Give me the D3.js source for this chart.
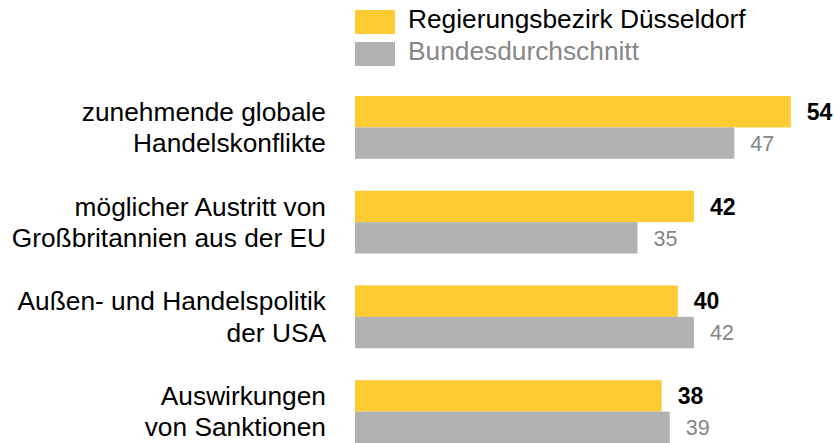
<!DOCTYPE html>
<html>
<head>
<meta charset="utf-8">
<script src="https://cdn.jsdelivr.net/npm/d3@7"></script>
<style>
  body { margin: 0; background: #fff; }
  text { font-family: "Liberation Sans", Arial, sans-serif; }
</style>
</head>
<body>
<div id="app"></div>
<script>
const categories = [
    ["zunehmende globale", "Handelskonflikte"],
    ["möglicher Austritt von", "Großbritannien aus der EU"],
    ["Außen- und Handelspolitik", "der USA"],
    ["Auswirkungen", "von Sanktionen"]
];
const seriesNames = ["Regierungsbezirk Düsseldorf", "Bundesdurchschnitt"];
const duesseldorf = [54, 42, 40, 38];
const bund = [47, 35, 42, 39];

const colors = ["#fecb33", "#b2b2b2"];
const textColors = ["#000", "#858585"];

const width = 834, height = 443;
const barLeft = 355;

const svg = d3.select("#app")
    .append("svg")
        .attr("width", width)
        .attr("height", height);

const rows = categories.map((c, i) => ({label: c, values: [duesseldorf[i], bund[i]]}));

const y = d3.scaleBand()
    .domain(d3.range(categories.length))
    .range([96, 443])
    .paddingInner(32 / 95)
    .paddingOuter(0);

const ySub = d3.scaleBand()
    .domain([0, 1])
    .range([0, y.bandwidth()]);

const x = d3.scaleLinear().domain([0, 100]).range([0, 807]);

// legend
const legend = svg.append("g");
seriesNames.forEach((name, i) => {
    legend.append("rect")
        .attr("x", barLeft)
        .attr("y", 10 + i * 32)
        .attr("width", 40)
        .attr("height", 24)
        .attr("fill", colors[i]);
    legend.append("text")
        .attr("x", 408)
        .attr("y", 27.5 + i * 32.5)
        .attr("font-size", "26.3px")
        .attr("fill", i === 0 ? "#000" : "#878787")
        .text(name);
});

const groups = svg.selectAll(".group")
    .data(rows)
    .join("g")
        .attr("class", "group")
        .attr("transform", (d, i) => "translate(0," + y(i) + ")");

groups.selectAll("rect")
    .data(d => d.values)
    .join("rect")
        .attr("x", barLeft)
        .attr("y", (d, j) => ySub(j))
        .attr("width", d => x(d))
        .attr("height", ySub.bandwidth())
        .attr("fill", (d, j) => colors[j]);

// value labels
groups.selectAll(".val")
    .data(d => d.values)
    .join("text")
        .attr("class", "val")
        .attr("x", d => barLeft + x(d) + 16)
        .attr("y", (d, j) => ySub(j) + ySub.bandwidth() / 2)
        .attr("dy", "0.36em")
        .attr("font-size", (d, j) => j === 0 ? "23px" : "21.5px")
        .attr("font-weight", (d, j) => j === 0 ? "bold" : "normal")
        .attr("fill", (d, j) => textColors[j])
        .text(d => d);

// category labels, one line per bar
groups.selectAll(".cat")
    .data(d => d.label)
    .join("text")
        .attr("class", "cat")
        .attr("x", 326)
        .attr("y", (d, j) => ySub(j) + ySub.bandwidth() / 2)
        .attr("dy", "0.35em")
        .attr("text-anchor", "end")
        .attr("font-size", "26.3px")
        .attr("fill", "#000")
        .text(d => d);
</script>
</body>
</html>
